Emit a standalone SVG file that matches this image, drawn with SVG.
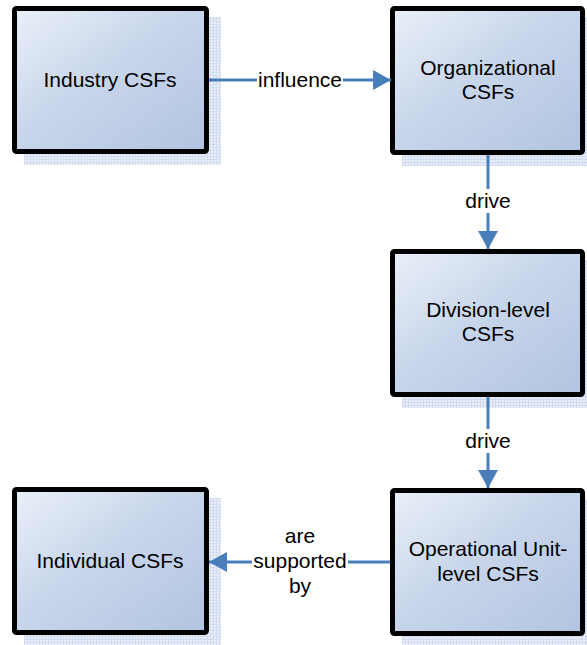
<svg xmlns="http://www.w3.org/2000/svg" width="587" height="645" viewBox="0 0 587 645">
<defs>
<linearGradient id="fillGrad" x1="0" y1="0" x2="1" y2="1">
<stop offset="0" stop-color="#ebf0f9"/>
<stop offset="0.45" stop-color="#c8d6eb"/>
<stop offset="1" stop-color="#b2c4e0"/>
</linearGradient>
<pattern id="shadowPat" width="3" height="3" patternUnits="userSpaceOnUse">
<rect width="3" height="3" fill="#e9eef8"/>
<rect width="3" height="1" fill="#d2dcef"/>
<rect width="1" height="3" fill="#d2dcef"/>
</pattern>
<marker id="arrow" markerWidth="18" markerHeight="20" refX="18" refY="10" orient="auto" markerUnits="userSpaceOnUse">
<path d="M0,0 L18,10 L0,20 Z" fill="#4a7ebb"/>
</marker>
<style>
.shadow{fill:url(#shadowPat);}
.box{fill:url(#fillGrad);stroke:#000;stroke-width:5;}
.lbl{font-family:"Liberation Sans",Arial,sans-serif;font-size:21px;fill:#000;text-anchor:middle;}
.conn{stroke:#4a7ebb;stroke-width:3;fill:none;}
.bg{fill:#fff;}
</style>
</defs>
<g id="industry">
<rect class="shadow" x="24" y="17" width="197" height="148"/>
<rect class="box" x="14.5" y="8.5" width="192" height="143" rx="2"/>
<text class="lbl" x="110" y="87">Industry CSFs</text>
</g>
<g id="organizational">
<rect class="shadow" x="402" y="17" width="197" height="149"/>
<rect class="box" x="392.5" y="8.5" width="190" height="144" rx="2"/>
<text class="lbl" x="488" y="75">Organizational</text>
<text class="lbl" x="488" y="99">CSFs</text>
</g>
<g id="division">
<rect class="shadow" x="402" y="260" width="197" height="148"/>
<rect class="box" x="392.5" y="251.5" width="190" height="143" rx="2"/>
<text class="lbl" x="488" y="317">Division-level</text>
<text class="lbl" x="488" y="341">CSFs</text>
</g>
<g id="operational">
<rect class="shadow" x="402" y="499" width="197" height="148"/>
<rect class="box" x="392.5" y="490.5" width="190" height="143" rx="2"/>
<text class="lbl" x="488" y="556">Operational Unit-</text>
<text class="lbl" x="488" y="581">level CSFs</text>
</g>
<g id="individual">
<rect class="shadow" x="24" y="498" width="197" height="148"/>
<rect class="box" x="14.5" y="489.5" width="192" height="143" rx="2"/>
<text class="lbl" x="110" y="568">Individual CSFs</text>
</g>
<g id="connectors">
<line class="conn" x1="209" y1="80" x2="391" y2="80" marker-end="url(#arrow)"/>
<rect class="bg" x="257" y="68" width="86" height="24"/>
<text class="lbl" x="300" y="87">influence</text>
<line class="conn" x1="488" y1="155" x2="488" y2="249" marker-end="url(#arrow)"/>
<rect class="bg" x="464" y="189" width="48" height="24"/>
<text class="lbl" x="488" y="208">drive</text>
<line class="conn" x1="488" y1="397" x2="488" y2="488" marker-end="url(#arrow)"/>
<rect class="bg" x="464" y="429" width="48" height="24"/>
<text class="lbl" x="488" y="448">drive</text>
<line class="conn" x1="390" y1="562" x2="209" y2="562" marker-end="url(#arrow)"/>
<rect class="bg" x="252" y="522" width="96" height="76"/>
<text class="lbl" x="300" y="543">are</text>
<text class="lbl" x="300" y="568">supported</text>
<text class="lbl" x="300" y="593">by</text>
</g>
</svg>
